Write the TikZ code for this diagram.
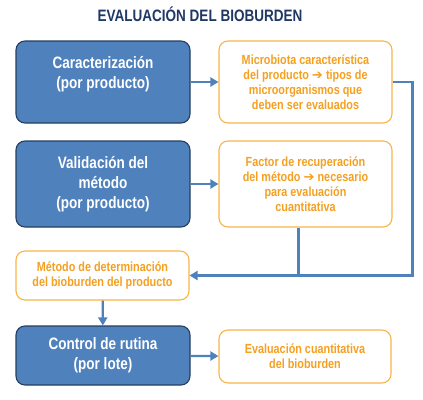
\documentclass[tikz,border=0pt]{standalone}
\usepackage{fontspec}
\setmainfont[FakeStretch=0.82]{Liberation Sans}
\newfontfamily\arrowfont{DejaVu Sans}
\newcommand{\toarrow}{{\arrowfont\bfseries ➔}}
\usepackage{tikz}
\usetikzlibrary{arrows.meta, positioning}
\definecolor{boxblue}{HTML}{4F81BD}
\definecolor{edgeblue}{HTML}{243F60}
\definecolor{titleblue}{HTML}{1F3864}
\definecolor{txtorange}{HTML}{F5A021}
\definecolor{edgeorange}{HTML}{F8B54A}

\begin{document}
\begin{tikzpicture}[x=1pt, y=-1pt,
    bluebox/.style={draw=edgeblue, fill=boxblue, line width=1.1pt, rounded corners=9pt,
        text=white, align=center, minimum width=174pt,
        font=\bfseries\fontsize{16.5}{20}\selectfont},
    orangebox/.style={draw=edgeorange, fill=white, line width=1.1pt, rounded corners=9pt,
        text=txtorange, align=center, minimum width=173pt,
        font=\bfseries\fontsize{13.2}{15}\selectfont},
    link/.style={draw=boxblue, line width=2.3pt, -{Triangle[length=8pt,width=9pt]}},
    plain/.style={draw=boxblue, line width=2.3pt}]
    \useasboundingbox (0,0) rectangle (423,399);

    % Title
    \node[text=titleblue, font=\bfseries\fontsize{16.5}{18}\selectfont] (title) at (200,14) {EVALUACIÓN DEL BIOBURDEN};

    % Left column
    \node[bluebox, minimum height=82pt] (carac) at (103,82) {Caracterización\\(por producto)\\~};
    \node[bluebox, minimum height=86pt] (valid) at (103,184) {Validación del\\método\\(por producto)};
    \node[orangebox, minimum height=49pt] (metodo) at (102.5,275.5) {Método de determinación\\del bioburden del producto};
    \node[bluebox, minimum height=59pt] (rutina) at (103,355.5) {Control de rutina\\(por lote)};

    % Right column
    \node[orangebox, minimum height=82pt] (micro) at (305.5,82) {Microbiota característica\\del producto \toarrow{} tipos de\\microorganismos que\\deben ser evaluados};
    \node[orangebox, minimum height=86pt] (factor) at (305.5,184) {Factor de recuperación\\del método \toarrow{} necesario\\para evaluación\\cuantitativa};
    \node[orangebox, minimum height=53pt, minimum width=172pt] (cuanti) at (305,356.5) {Evaluación cuantitativa\\del bioburden};

    % Connectors
    \draw[link] (carac) -- (micro);
    \draw[link] (valid) -- (factor);
    \draw[link] (rutina) -- (cuanti);
    \draw[link] (metodo) -- (rutina);
    \draw[link] (micro.east) -- ++(20,0) |- (metodo.east);
    \draw[plain] ([xshift=-7pt]factor.south) -- ([xshift=-7pt]factor.south |- metodo.east);
\end{tikzpicture}
\end{document}
